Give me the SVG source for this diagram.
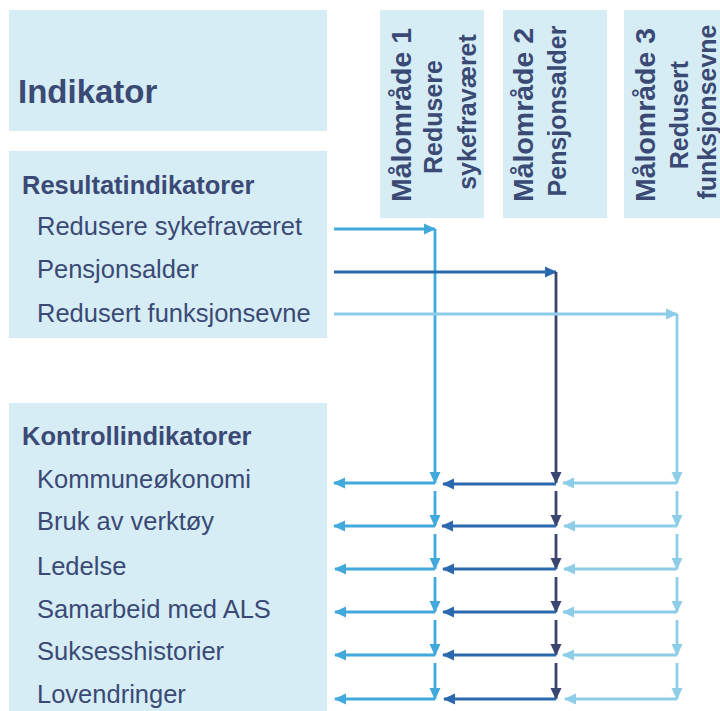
<svg xmlns="http://www.w3.org/2000/svg" width="720" height="711" viewBox="0 0 720 711">
<style>
.box{fill:#d7edf6}
.t{font-family:"Liberation Sans",Arial,sans-serif;fill:#3a4a75}
.item{font-size:25.5px}
.head{font-size:25.5px;font-weight:bold}
.big{font-size:33px;font-weight:bold}
.vt{font-size:28.5px;font-weight:bold;text-anchor:middle}
.vs{font-size:25px;font-weight:bold;text-anchor:middle}
.c1{stroke:#41a9dc;stroke-width:2.8;fill:none}
.c2h{stroke:#2b68ad;stroke-width:2.8;fill:none}
.c2v{stroke:#3b4670;stroke-width:2.8;fill:none}
.c3{stroke:#8ecde8;stroke-width:2.8;fill:none}
</style>
<defs>
<marker id="a1" markerUnits="userSpaceOnUse" markerWidth="12" markerHeight="12" refX="11" refY="6" orient="auto"><path d="M0,0.5 L12,6 L0,11.5 z" fill="#41a9dc"/></marker>
<marker id="a2h" markerUnits="userSpaceOnUse" markerWidth="12" markerHeight="12" refX="11" refY="6" orient="auto"><path d="M0,0.5 L12,6 L0,11.5 z" fill="#2b68ad"/></marker>
<marker id="a2v" markerUnits="userSpaceOnUse" markerWidth="12" markerHeight="12" refX="11" refY="6" orient="auto"><path d="M0,0.5 L12,6 L0,11.5 z" fill="#3b4670"/></marker>
<marker id="a3" markerUnits="userSpaceOnUse" markerWidth="12" markerHeight="12" refX="11" refY="6" orient="auto"><path d="M0,0.5 L12,6 L0,11.5 z" fill="#8ecde8"/></marker>
</defs>
<rect width="720" height="711" fill="#ffffff"/>

<g id="indikator">
<rect class="box" x="9" y="10" width="318" height="121"/>
<text class="t big" x="18" y="103">Indikator</text>
</g>

<g id="resultatindikatorer">
<rect class="box" x="9" y="151" width="318" height="187"/>
<text class="t head" x="22" y="194">Resultatindikatorer</text>
<text class="t item" x="37" y="235">Redusere sykefraværet</text>
<text class="t item" x="37" y="278">Pensjonsalder</text>
<text class="t item" x="37" y="322">Redusert funksjonsevne</text>
</g>

<g id="kontrollindikatorer">
<rect class="box" x="9" y="403" width="318" height="308"/>
<text class="t head" x="22" y="445">Kontrollindikatorer</text>
<text class="t item" x="37" y="488">Kommuneøkonomi</text>
<text class="t item" x="37" y="530">Bruk av verktøy</text>
<text class="t item" x="37" y="575">Ledelse</text>
<text class="t item" x="37" y="618">Samarbeid med ALS</text>
<text class="t item" x="37" y="660">Suksesshistorier</text>
<text class="t item" x="37" y="703">Lovendringer</text>
</g>

<g id="maalomraade1">
<rect class="box" x="380" y="10" width="104" height="208"/>
<text class="t vt" transform="translate(411,115) rotate(-90)">Målområde 1</text>
<text class="t vs" transform="translate(442,117) rotate(-90)">Redusere</text>
<text class="t vs" transform="translate(476,112) rotate(-90)">sykefraværet</text>
</g>

<g id="maalomraade2">
<rect class="box" x="503" y="10" width="104" height="208"/>
<text class="t vt" transform="translate(533,115) rotate(-90)">Målområde 2</text>
<text class="t vs" transform="translate(566,111) rotate(-90)">Pensjonsalder</text>
</g>

<g id="maalomraade3">
<rect class="box" x="624" y="10" width="104" height="208"/>
<text class="t vt" transform="translate(655,115) rotate(-90)">Målområde 3</text>
<text class="t vs" transform="translate(688,115) rotate(-90)">Redusert</text>
<text class="t vs" transform="translate(716,112) rotate(-90)">funksjonsevne</text>
</g>

<g id="connectors">
<!-- column 1 -->
<path class="c1" d="M334,229 H435" marker-end="url(#a1)"/>
<path class="c1" d="M435,229 V483" marker-end="url(#a1)"/>
<path class="c1" d="M435,491 V526" marker-end="url(#a1)"/>
<path class="c1" d="M435,534 V569" marker-end="url(#a1)"/>
<path class="c1" d="M435,577 V612" marker-end="url(#a1)"/>
<path class="c1" d="M435,620 V655" marker-end="url(#a1)"/>
<path class="c1" d="M435,663 V699" marker-end="url(#a1)"/>
<path class="c1" d="M435,483 H334" marker-end="url(#a1)"/>
<path class="c1" d="M435,526 H334" marker-end="url(#a1)"/>
<path class="c1" d="M435,569 H335" marker-end="url(#a1)"/>
<path class="c1" d="M435,612 H335" marker-end="url(#a1)"/>
<path class="c1" d="M435,655 H335" marker-end="url(#a1)"/>
<path class="c1" d="M435,699 H335" marker-end="url(#a1)"/>
<!-- column 2 -->
<path class="c2h" d="M334,272 H556" marker-end="url(#a2h)"/>
<path class="c2v" d="M556,272 V483" marker-end="url(#a2v)"/>
<path class="c2v" d="M556,491 V526" marker-end="url(#a2v)"/>
<path class="c2v" d="M556,534 V569" marker-end="url(#a2v)"/>
<path class="c2v" d="M556,577 V612" marker-end="url(#a2v)"/>
<path class="c2v" d="M556,620 V655" marker-end="url(#a2v)"/>
<path class="c2v" d="M556,663 V699" marker-end="url(#a2v)"/>
<path class="c2h" d="M556,484 H443" marker-end="url(#a2h)"/>
<path class="c2h" d="M556,526 H442" marker-end="url(#a2h)"/>
<path class="c2h" d="M556,569 H443" marker-end="url(#a2h)"/>
<path class="c2h" d="M556,612 H443" marker-end="url(#a2h)"/>
<path class="c2h" d="M556,655 H443" marker-end="url(#a2h)"/>
<path class="c2h" d="M556,699 H444" marker-end="url(#a2h)"/>
<!-- column 3 -->
<path class="c3" d="M334,314 H677" marker-end="url(#a3)"/>
<path class="c3" d="M677,314 V483" marker-end="url(#a3)"/>
<path class="c3" d="M677,491 V526" marker-end="url(#a3)"/>
<path class="c3" d="M677,534 V569" marker-end="url(#a3)"/>
<path class="c3" d="M677,577 V612" marker-end="url(#a3)"/>
<path class="c3" d="M677,620 V655" marker-end="url(#a3)"/>
<path class="c3" d="M677,663 V699" marker-end="url(#a3)"/>
<path class="c3" d="M677,483 H563" marker-end="url(#a3)"/>
<path class="c3" d="M677,526 H564" marker-end="url(#a3)"/>
<path class="c3" d="M677,569 H564" marker-end="url(#a3)"/>
<path class="c3" d="M677,612 H563" marker-end="url(#a3)"/>
<path class="c3" d="M677,655 H563" marker-end="url(#a3)"/>
<path class="c3" d="M677,699 H565" marker-end="url(#a3)"/>
</g>
</svg>
